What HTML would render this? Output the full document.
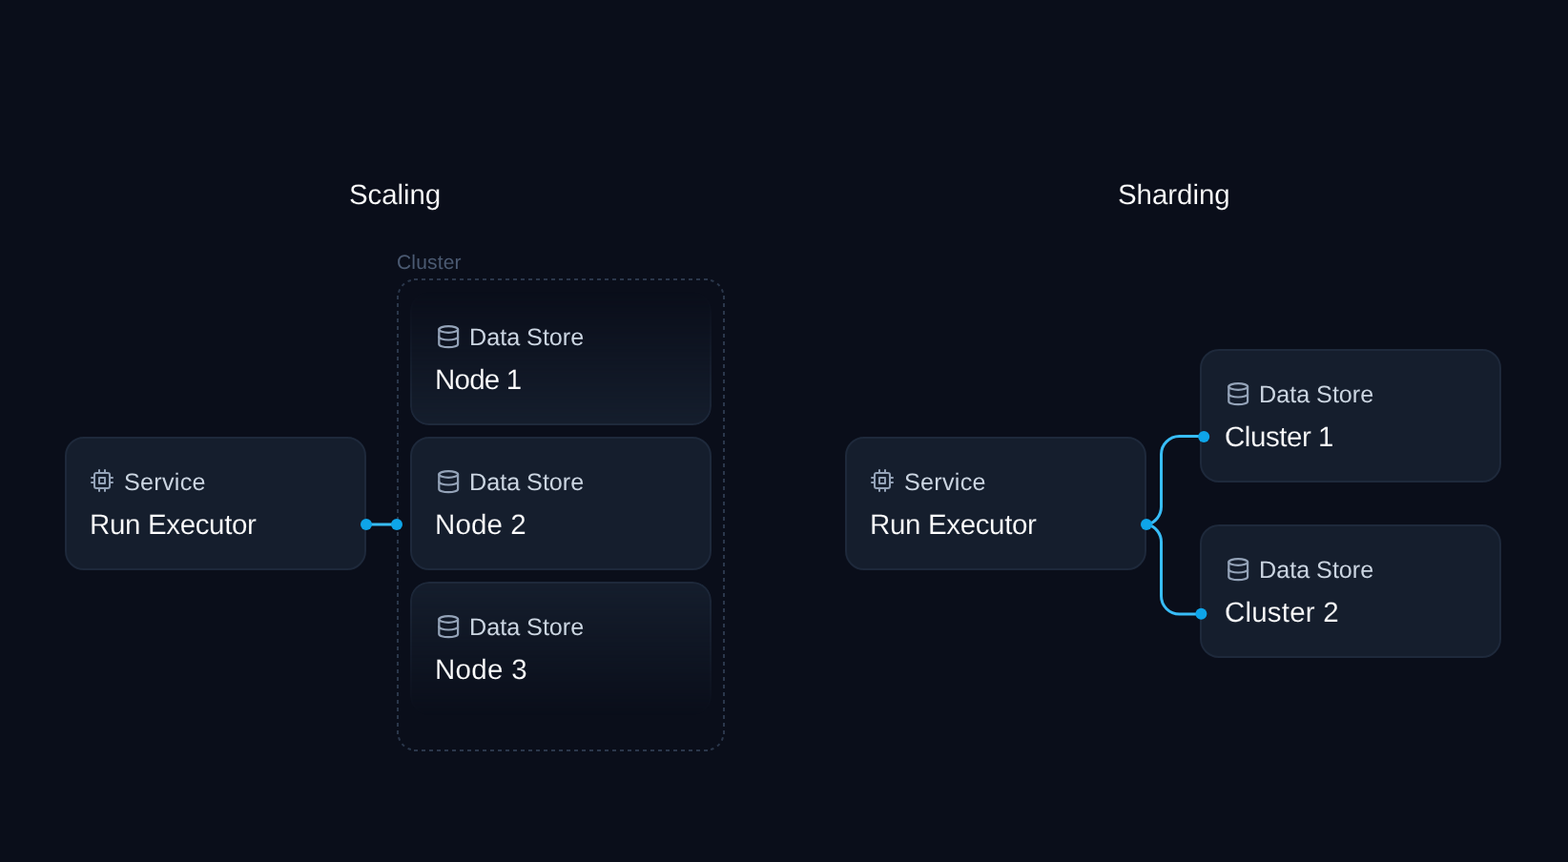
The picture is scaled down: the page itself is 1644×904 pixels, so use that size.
<!DOCTYPE html>
<html lang="en">
<head>
<meta charset="utf-8">
<title>Scaling vs Sharding</title>
<style>
html,body{margin:0;padding:0;}
body{width:1644px;height:904px;overflow:hidden;background:#0a0e1a;position:relative;
  font-family:"Liberation Sans",sans-serif;color:#fff;}
.txt,.title,.cluster-label,.lbl,.name{position:absolute;white-space:nowrap;will-change:transform;text-rendering:geometricPrecision;}
.title{font-size:29.5px;line-height:40px;color:#fff;-webkit-text-stroke:0.15px #0a0e1a;}
.cluster-label{font-size:21px;line-height:28px;color:#4b5a72;}
.card{position:absolute;width:316px;height:140px;}
.card .bg{position:absolute;left:0;top:0;right:0;bottom:0;box-sizing:border-box;border:2px solid #1e293b;border-radius:20px;background:#151e2d;}
.card.fade-top .bg{-webkit-mask-image:linear-gradient(to bottom,transparent 0%,#000 100%);mask-image:linear-gradient(to bottom,transparent 0%,#000 100%);}
.card.fade-top .lbl,.card.fade-bottom .name{-webkit-text-stroke-color:#0e1320;}
.card.fade-top .name,.card.fade-bottom .lbl{-webkit-text-stroke-color:#111926;}
.card.fade-bottom .bg{-webkit-mask-image:linear-gradient(to bottom,#000 0%,transparent 100%);mask-image:linear-gradient(to bottom,#000 0%,transparent 100%);}
.card svg.ic{position:absolute;overflow:visible;fill:none;stroke:#94a3b8;stroke-linecap:round;stroke-linejoin:round;}
.card .lbl{font-size:25.2px;line-height:32px;color:#cbd5e1;-webkit-text-stroke:0px #151e2d;}
.card .name{font-size:29.5px;line-height:36px;color:#fff;-webkit-text-stroke:0.15px #151e2d;}
svg.overlay{position:absolute;left:0;top:0;width:1644px;height:904px;overflow:visible;pointer-events:none;}
</style>
</head>
<body>

<div class="title" id="t1" style="left:366px;top:185px;letter-spacing:-0.11px;">Scaling</div>
<div class="title" id="t2" style="left:1172px;top:185px;letter-spacing:-0.06px;">Sharding</div>

<div class="cluster-label" id="cl" style="left:416px;top:262px;letter-spacing:0.16px;">Cluster</div>

<svg class="overlay" id="clusterbox" viewBox="0 0 1644 904">
  <g fill="none" stroke="#2b374b" stroke-width="2">
    <g stroke-dasharray="4 4">
      <line x1="434" y1="293" x2="742" y2="293"/>
      <line x1="434" y1="787" x2="742" y2="787"/>
      <line x1="417" y1="310" x2="417" y2="770"/>
      <line x1="759" y1="310" x2="759" y2="770"/>
    </g>
    <g stroke-dasharray="0 4.41 3.4 4.23 3.4 4.24 3.4 4.41">
      <path d="M417.5 311A17.5 17.5 0 0 1 435 293.5"/>
      <path d="M758.5 311A17.5 17.5 0 0 0 741 293.5"/>
      <path d="M417.5 769A17.5 17.5 0 0 0 435 786.5"/>
      <path d="M758.5 769A17.5 17.5 0 0 1 741 786.5"/>
    </g>
  </g>
</svg>

<!-- Scaling diagram -->
<div class="card" id="svcL" style="left:68px;top:458px;">
  <div class="bg"></div>
  <svg class="ic" style="left:27.1px;top:34.4px;" width="24" height="24" viewBox="0 0 24 24" stroke-width="2"><rect x="4" y="4" width="16" height="16" rx="2" ry="2"/><rect x="9" y="9" width="6" height="6"/><line x1="9" y1="1" x2="9" y2="4"/><line x1="15" y1="1" x2="15" y2="4"/><line x1="9" y1="20" x2="9" y2="23"/><line x1="15" y1="20" x2="15" y2="23"/><line x1="20" y1="9" x2="23" y2="9"/><line x1="20" y1="14" x2="23" y2="14"/><line x1="1" y1="9" x2="4" y2="9"/><line x1="1" y1="14" x2="4" y2="14"/></svg>
  <div class="lbl" style="left:62px;top:32px;letter-spacing:0.25px;">Service</div>
  <div class="name" style="left:26px;top:75px;letter-spacing:-0.35px;">Run Executor</div>
</div>

<div class="card fade-top" id="n1" style="left:430px;top:306px;">
  <div class="bg"></div>
  <svg class="ic" style="left:26.85px;top:33.98px;" width="26.4" height="26.4" viewBox="0 0 24 24" stroke-width="2"><ellipse cx="12" cy="5" rx="9" ry="3"/><path d="M3 5V19A9 3 0 0 0 21 19V5"/><path d="M3 12A9 3 0 0 0 21 12"/></svg>
  <div class="lbl" style="left:62px;top:32px;letter-spacing:-0.02px;">Data Store</div>
  <div class="name" style="left:26px;top:75px;letter-spacing:-0.78px;">Node 1</div>
</div>

<div class="card" id="n2" style="left:430px;top:458px;">
  <div class="bg"></div>
  <svg class="ic" style="left:26.85px;top:33.98px;" width="26.4" height="26.4" viewBox="0 0 24 24" stroke-width="2"><ellipse cx="12" cy="5" rx="9" ry="3"/><path d="M3 5V19A9 3 0 0 0 21 19V5"/><path d="M3 12A9 3 0 0 0 21 12"/></svg>
  <div class="lbl" style="left:62px;top:32px;letter-spacing:-0.02px;">Data Store</div>
  <div class="name" style="left:26px;top:75px;letter-spacing:0.1px;">Node 2</div>
</div>

<div class="card fade-bottom" id="n3" style="left:430px;top:610px;">
  <div class="bg"></div>
  <svg class="ic" style="left:26.85px;top:33.98px;" width="26.4" height="26.4" viewBox="0 0 24 24" stroke-width="2"><ellipse cx="12" cy="5" rx="9" ry="3"/><path d="M3 5V19A9 3 0 0 0 21 19V5"/><path d="M3 12A9 3 0 0 0 21 12"/></svg>
  <div class="lbl" style="left:62px;top:32px;letter-spacing:-0.02px;">Data Store</div>
  <div class="name" style="left:26px;top:75px;letter-spacing:0.3px;">Node 3</div>
</div>

<!-- Sharding diagram -->
<div class="card" id="svcR" style="left:886px;top:458px;">
  <div class="bg"></div>
  <svg class="ic" style="left:27.1px;top:34.4px;" width="24" height="24" viewBox="0 0 24 24" stroke-width="2"><rect x="4" y="4" width="16" height="16" rx="2" ry="2"/><rect x="9" y="9" width="6" height="6"/><line x1="9" y1="1" x2="9" y2="4"/><line x1="15" y1="1" x2="15" y2="4"/><line x1="9" y1="20" x2="9" y2="23"/><line x1="15" y1="20" x2="15" y2="23"/><line x1="20" y1="9" x2="23" y2="9"/><line x1="20" y1="14" x2="23" y2="14"/><line x1="1" y1="9" x2="4" y2="9"/><line x1="1" y1="14" x2="4" y2="14"/></svg>
  <div class="lbl" style="left:62px;top:32px;letter-spacing:0.25px;">Service</div>
  <div class="name" style="left:26px;top:75px;letter-spacing:-0.35px;">Run Executor</div>
</div>

<div class="card" id="c1" style="left:1258px;top:366px;">
  <div class="bg"></div>
  <svg class="ic" style="left:26.85px;top:33.98px;" width="26.4" height="26.4" viewBox="0 0 24 24" stroke-width="2"><ellipse cx="12" cy="5" rx="9" ry="3"/><path d="M3 5V19A9 3 0 0 0 21 19V5"/><path d="M3 12A9 3 0 0 0 21 12"/></svg>
  <div class="lbl" style="left:62px;top:32px;letter-spacing:-0.02px;">Data Store</div>
  <div class="name" style="left:26px;top:75px;letter-spacing:-0.44px;">Cluster 1</div>
</div>

<div class="card" id="c2" style="left:1258px;top:550px;">
  <div class="bg"></div>
  <svg class="ic" style="left:26.85px;top:33.98px;" width="26.4" height="26.4" viewBox="0 0 24 24" stroke-width="2"><ellipse cx="12" cy="5" rx="9" ry="3"/><path d="M3 5V19A9 3 0 0 0 21 19V5"/><path d="M3 12A9 3 0 0 0 21 12"/></svg>
  <div class="lbl" style="left:62px;top:32px;letter-spacing:-0.02px;">Data Store</div>
  <div class="name" style="left:26px;top:75px;letter-spacing:0.2px;">Cluster 2</div>
</div>

<!-- connectors -->
<svg class="overlay" id="edges" viewBox="0 0 1644 904">
  <g fill="none" stroke="#38bdf8" stroke-width="3" stroke-linecap="round">
    <path d="M384 550H416"/>
    <path d="M1203.2 550A19 19 0 0 0 1217.5 531.6V476.6A19 19 0 0 1 1236.5 457.6H1262"/>
    <path d="M1203.2 550A19 19 0 0 1 1217.5 568.4V625.1A19 19 0 0 0 1236.5 644.1H1259.4"/>
  </g>
  <g fill="#0ea5e9">
    <circle cx="384" cy="550" r="6"/>
    <circle cx="416" cy="550" r="6"/>
    <circle cx="1202" cy="550" r="6"/>
    <circle cx="1262.2" cy="458" r="6"/>
    <circle cx="1259.4" cy="643.7" r="6"/>
  </g>
</svg>

</body>
</html>
